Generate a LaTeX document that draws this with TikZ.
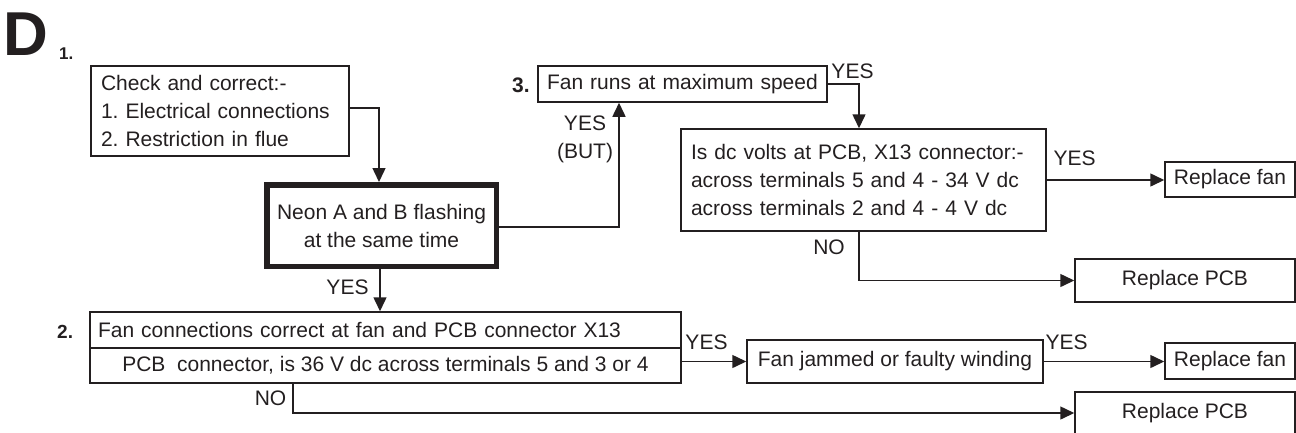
\documentclass[tikz,border=0pt]{standalone}
\usepackage{fontspec}
\setmainfont{Liberation Sans}
\usetikzlibrary{arrows.meta,calc}
\definecolor{ink}{RGB}{35,31,32}
\frenchspacing
\begin{document}
\begin{tikzpicture}[x=1pt,y=-1pt,
  every node/.style={inner sep=0pt, text=ink},
  txt/.style={font=\fontsize{21}{28}\selectfont\frenchspacing},
  box/.style={txt, draw=ink, line width=1.5pt, align=center},
  lbox/.style={txt, draw=ink, line width=1.5pt, align=left, inner xsep=#1},
  conn/.style={draw=ink, line width=1.5pt, -{Triangle[length=14pt,width=13pt]}},
  lab/.style={txt},
  num/.style={font=\fontsize{21}{25}\selectfont\bfseries}
]
\useasboundingbox (0,0) rectangle (1296,432);

% titles and step numbers
\node[font=\fontsize{62}{62}\selectfont\bfseries, anchor=base west] (D) at (3,55) {D};
\node[font=\fontsize{17}{17}\selectfont\bfseries, anchor=base west] (n1) at (59,59.5) {1.};
\node[num, anchor=base west] (n3) at (512,92.5) {3.};
\node[font=\fontsize{19}{19}\selectfont\bfseries, anchor=base west] (n2) at (57,338) {2.};

% boxes
\node[lbox=10pt, text width=238pt, minimum height=90pt] (check) at (220,111)
  {Check and correct:-\\1. Electrical connections\\2. Restriction in flue};
\node[box, line width=5.5pt, minimum width=229.5pt, minimum height=81.5pt] (neon) at (381.5,225.5)
  {Neon A and B flashing\\at the same time};
\node[lbox=9pt, text width=271pt, minimum height=36pt] (fanruns) at (682.5,84)
  {Fan runs at maximum speed};
\node[lbox=10pt, text width=345pt, minimum height=102pt] (isdc) at (863.5,180)
  {Is dc volts at PCB, X13 connector:-\\across terminals 5 and 4 - 34 V dc\\across terminals 2 and 4 - 4 V dc};
\node[box, minimum width=130pt, minimum height=35pt] (rfan1) at (1230,179.5) {Replace fan};
\node[box, minimum width=220pt, minimum height=43pt] (rpcb1) at (1185,280.5) {Replace PCB};
\node[lbox=8pt, text width=575pt, minimum height=36pt] (conn1) at (385.5,330)
  {Fan connections correct at fan and PCB connector X13};
\node[box, minimum width=591pt, minimum height=35pt] (conn2) at (385.5,365.5)
  {PCB\ \ connector, is 36 V dc across terminals 5 and 3 or 4};
\node[box, minimum width=296pt, minimum height=43pt] (fanjam) at (895,361.5) {Fan jammed or faulty winding};
\node[box, minimum width=130pt, minimum height=36pt] (rfan2) at (1230,361) {Replace fan};
\node[box, minimum width=220pt, minimum height=42pt] (rpcb2) at (1185,413) {Replace PCB};

% connectors
\draw[conn] ([yshift=3pt]check.east) -| ([xshift=-2.5pt]neon.north);
\draw[conn] ([yshift=-1.5pt]neon.east) -| ([xshift=-63.5pt]fanruns.south);
\draw[conn] (fanruns.east) -| ([xshift=-4.5pt]isdc.north);
\draw[conn] (isdc.east) -- (isdc.east -| rfan1.west);
\draw[conn] ([xshift=-4.5pt]isdc.south) |- (rpcb1.west);
\draw[conn] ([xshift=-1.5pt]neon.south) -- ([xshift=-1.5pt]neon.south |- conn1.north);
\draw[conn] (conn2.east |- fanjam.west) -- (fanjam.west);
\draw[conn] (fanjam.east) -- (fanjam.east -| rfan2.west);
\draw[conn] ([xshift=-92.5pt]conn2.south) |- (rpcb2.west);

% labels
\node[lab] (l1) at (347.5,287) {YES};
\node[lab, align=center] (l2) at (585,139) {YES\\(BUT)};
\node[lab] (l3) at (852.5,71) {YES};
\node[lab] (l4) at (1074.5,158) {YES};
\node[lab] (l5) at (829,247) {NO};
\node[lab] (l6) at (706.5,342) {YES};
\node[lab] (l7) at (1066.5,342) {YES};
\node[lab] (l8) at (270.5,398) {NO};
\end{tikzpicture}
\end{document}
